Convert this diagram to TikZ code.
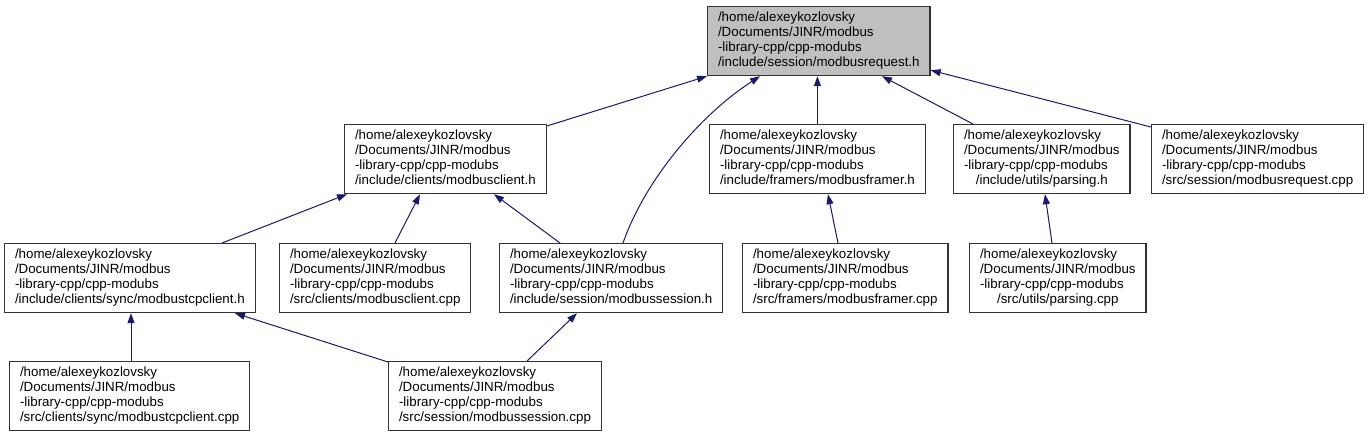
\documentclass[tikz,border=0pt]{standalone}
\usepackage{fontspec}
\setmainfont{Liberation Sans}
\usetikzlibrary{arrows.meta,calc}
\definecolor{edgeblue}{HTML}{191970}
\definecolor{rootgray}{HTML}{BFBFBF}
\definecolor{boxline}{HTML}{333333}
\newcommand{\flabel}[1]{\begin{tabular}{@{}l@{}}/home/alexeykozlovsky\\/Documents/JINR/modbus\\-library-cpp/cpp-modubs\\\multicolumn{1}{@{}c@{}}{#1}\end{tabular}}
\tikzset{
  filebox/.style={draw=boxline, line width=0.9pt, fill=white, anchor=north west,
    inner xsep=7.8pt, inner ysep=0pt, minimum height=51.75pt,
    font=\fontsize{10}{11.25}\selectfont},
  rootbox/.style={filebox, fill=rootgray},
  dep/.style={draw=edgeblue, line width=0.75pt,
    -{Triangle[length=7.5pt,width=5.25pt,fill=edgeblue]}},
}
\begin{document}
\begin{tikzpicture}[x=0.75pt,y=-0.75pt]
\useasboundingbox (0,0) rectangle (1367,437);
% row 1
\node[rootbox] (root) at (707,6) {\flabel{/include/session/modbusrequest.h}};
% row 2
\node[filebox] (clientH) at (344,124) {\flabel{/include/clients/modbusclient.h}};
\node[filebox] (framerH) at (709,124) {\flabel{/include/framers/modbusframer.h}};
\node[filebox] (parsingH) at (953,124) {\flabel{/include/utils/parsing.h}};
\node[filebox] (reqCpp) at (1151,124) {\flabel{/src/session/modbusrequest.cpp}};
% row 3
\node[filebox] (tcpH) at (4,243) {\flabel{/include/clients/sync/modbustcpclient.h}};
\node[filebox] (clientCpp) at (279,243) {\flabel{/src/clients/modbusclient.cpp}};
\node[filebox] (sessionH) at (499,243) {\flabel{/include/session/modbussession.h}};
\node[filebox] (framerCpp) at (742,243) {\flabel{/src/framers/modbusframer.cpp}};
\node[filebox] (parsingCpp) at (969,243) {\flabel{/src/utils/parsing.cpp}};
% row 4
\node[filebox] (tcpCpp) at (9,361) {\flabel{/src/clients/sync/modbustcpclient.cpp}};
\node[filebox] (sessionCpp) at (388,361) {\flabel{/src/session/modbussession.cpp}};
% edges to root
\draw[dep] ($(clientH.north east)+(0,2)$) -- (root.south west);
\draw[dep] ($(sessionH.north west)+(124,0)$) .. controls (645,180) and (700,115) .. ($(root.south west)+(53,0)$);
\draw[dep] (framerH.north) -- (framerH.north |- root.south);
\draw[dep] ($(parsingH.north west)+(20,0)$) -- ($(root.south west)+(175,0)$);
\draw[dep] ($(reqCpp.north west)+(0,3)$) -- ($(root.south east)+(0,-6)$);
% edges to clientH
\draw[dep] ($(tcpH.north west)+(218,0)$) -- ($(clientH.south west)+(3,0)$);
\draw[dep] ($(clientCpp.north west)+(116,0)$) -- ($(clientH.south west)+(76,0)$);
\draw[dep] ($(sessionH.north west)+(61,0)$) -- ($(clientH.south west)+(150,0)$);
% other edges
\draw[dep] ($(framerCpp.north west)+(96,0)$) -- ($(framerH.south west)+(119,0)$);
\draw[dep] ($(parsingCpp.north west)+(83,0)$) -- ($(parsingH.south west)+(92,0)$);
\draw[dep] ($(tcpCpp.north west)+(122,0)$) -- ($(tcpH.south west)+(127,0)$);
\draw[dep] ($(sessionCpp.north west)+(0,1)$) -- ($(tcpH.south west)+(231,0)$);
\draw[dep] ($(sessionCpp.north west)+(139,0)$) -- ($(sessionH.south west)+(78,0)$);
\end{tikzpicture}
\end{document}
